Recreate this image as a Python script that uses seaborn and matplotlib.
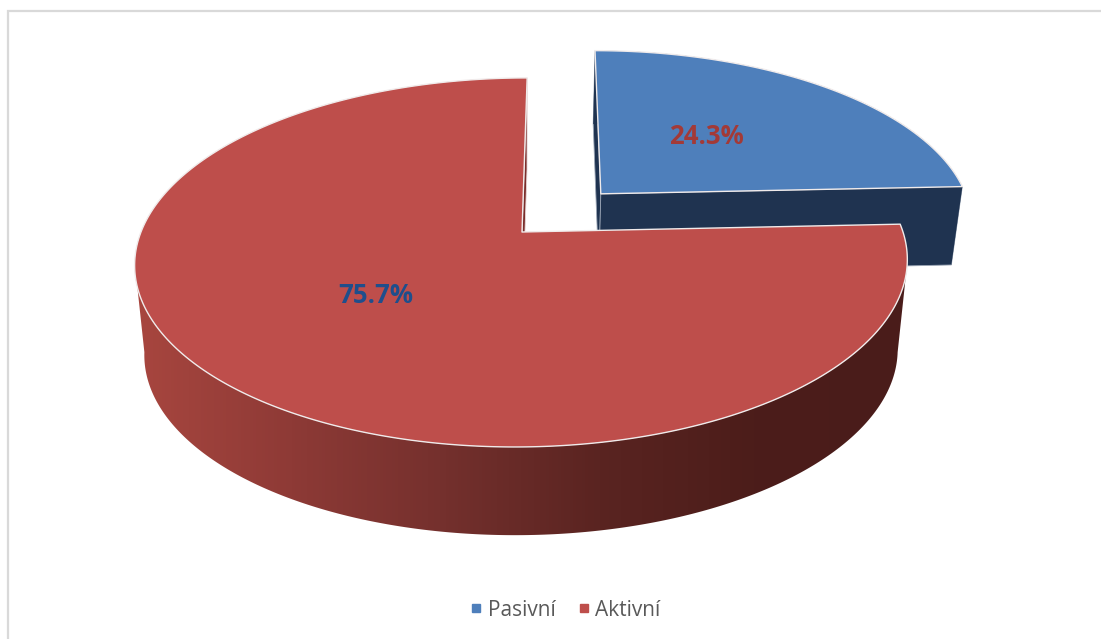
import numpy as np
import matplotlib
matplotlib.use("Agg")
import matplotlib.pyplot as plt
from matplotlib.lines import Line2D
from matplotlib.patches import Polygon
import seaborn as sns

# Data
categories = ["Pasivní", "Aktivní"]
shares = [24.3, 75.7]
top_colors = ["#4E7FBB", "#BE4E4B"]
label_colors = ["#A33A37", "#1F4E8C"]
label_pos = [(706, 136), (376, 295.5)]

sns.set_theme(style="white")
plt.rcParams["font.family"] = ["Open Sans", "DejaVu Sans"]

W, H = 1101, 639
fig = plt.figure(figsize=(W / 100, H / 100), dpi=100)
ax = fig.add_axes([0, 0, 1, 1])
ax.set_xlim(0, W)
ax.set_ylim(H, 0)
ax.axis("off")

# Perspective view of the pie: top face and the planes of the bases
PERSP = 0.165
TILT = 6.0
TOP = dict(cx=522.0, cy=232.0, ax=381.0, ay=179.5, scale=1.0)
BASE = dict(cx=522.0, cy=322.0, ax=381.0, ay=178.0, scale=0.975)
DETACHED_BASE = dict(cx=522.0, cy=312.0, ax=381.0, ay=186.0, scale=0.975)
EXPLODE = 0.305
EXPLODE_TURN = 0.0
DETACHED_RADIUS = 0.992


def project(u, v, plane):
    w = 1 + PERSP * v
    x = plane["cx"] + plane["scale"] * (plane["ax"] * u + TILT * v) / w
    y = plane["cy"] - plane["ay"] * v / w
    return np.column_stack([x, y])


def arc(start, stop, offset=(0.0, 0.0), radius=1.0, n=240):
    t = np.radians(np.linspace(start, stop, n))
    return radius * np.sin(t) + offset[0], radius * np.cos(t) + offset[1]


def radial(angle, offset=(0.0, 0.0), radius=1.0):
    t = np.radians(angle)
    return (np.array([offset[0], offset[0] + radius * np.sin(t)]),
            np.array([offset[1], offset[1] + radius * np.cos(t)]))


bounds = np.concatenate([[0], np.cumsum(shares)]) / np.sum(shares) * 360
mid = np.radians((bounds[0] + bounds[1]) / 2 + EXPLODE_TURN)
blue_offset = (EXPLODE * np.sin(mid), EXPLODE * np.cos(mid))
edge = dict(edgecolor="#F0EBEB", linewidth=1.0, joinstyle="round")

# Detached slice: walls first, then the top face
b0, b1 = bounds[0], bounds[1]
wall_navy = "#1F3350"
for angle in (b0, b1):
    u, v = radial(angle, blue_offset, DETACHED_RADIUS)
    ax.add_patch(Polygon(np.vstack([project(u, v, TOP), project(u, v, DETACHED_BASE)[::-1]]),
                         facecolor=wall_navy, edgecolor="#9AA5B5", linewidth=0.6, zorder=2))
u, v = arc(b0, b1, blue_offset, DETACHED_RADIUS)
ax.add_patch(Polygon(np.vstack([project(u, v, TOP), project(u, v, DETACHED_BASE)[::-1]]),
                     facecolor=wall_navy, edgecolor="none", zorder=2))
uo, vo = radial(b1, blue_offset, DETACHED_RADIUS)
ax.add_patch(Polygon(project(np.r_[uo[0], u, uo[0]], np.r_[vo[0], v, vo[0]], TOP),
                     facecolor=top_colors[0], zorder=3, **edge))

# Main slice: shaded outer wall between the silhouette tangents, inner sliver, top face
tangent = np.degrees(np.arcsin(PERSP))
u, v = arc(90 + tangent, 270 - tangent)
wall_outline = np.vstack([project(u, v, TOP), project(u, v, BASE)[::-1]])
wall_clip = Polygon(wall_outline, transform=ax.transData, facecolor="none", edgecolor="none")
ax.add_patch(wall_clip)
wall_cmap = sns.blend_palette(["#A8463F", "#8E3A36", "#74302D", "#5A2421", "#4C1D1A", "#4A1C1A"], as_cmap=True)
x0, x1 = wall_outline[:, 0].min(), wall_outline[:, 0].max()
shade = ax.imshow(np.linspace(0, 1, 256)[None, :], extent=(x0, x1, 600, 200), cmap=wall_cmap,
                  aspect="auto", zorder=4)
shade.set_clip_path(wall_clip)

u, v = radial(360)
ax.add_patch(Polygon(np.vstack([project(u, v, TOP), project(u, v, BASE)[::-1]]),
                     facecolor="#7A2E2B", edgecolor="#E8D8D8", linewidth=0.6, zorder=4))

u, v = arc(bounds[1], bounds[2], n=480)
ax.add_patch(Polygon(project(np.r_[0, u, 0], np.r_[0, v, 0], TOP),
                     facecolor=top_colors[1], zorder=5, **edge))

ax.set_xlim(0, W)
ax.set_ylim(H, 0)

# Value labels
for share, pos, color in zip(shares, label_pos, label_colors):
    ax.text(pos[0], pos[1], f"{share}%", color=color, fontsize=18.5, fontweight="bold",
            ha="center", va="center", zorder=6)

# Chart border: only the top and left lines are inside the canvas
ax.plot([8, 8, W], [H, 11, 11], color="#D9D9D9", linewidth=1.6, zorder=1, solid_joinstyle="miter")

# Legend
handles = [Line2D([], [], linestyle="none", marker="s", markersize=5.5, color=c) for c in top_colors]
ax.legend(handles, categories, loc="center", bbox_to_anchor=(563 / W, 1 - 610 / H), ncol=2, frameon=False,
          labelcolor="#595959", handletextpad=0.05, columnspacing=0.85, handlelength=1.0,
          prop={"family": "Open Sans", "size": 15})

fig.savefig("out.png", dpi=100)
